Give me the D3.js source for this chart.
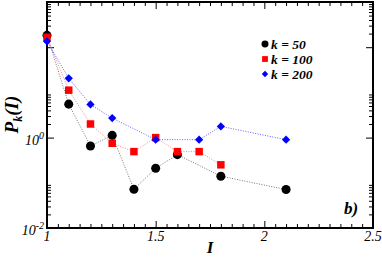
<!DOCTYPE html>
<html>
<head>
<meta charset="utf-8">
<script src="https://cdn.jsdelivr.net/npm/d3@7"></script>
<style>
  body { margin: 0; background: #fff; }
</style>
</head>
<body>
<div id="chart"></div>
<script>
// data
var xs50 = [1, 1.1, 1.2, 1.3, 1.4, 1.5, 1.6, 1.8, 2.1];
var k50 = [183, 5.5, 0.65, 1.12, 0.072, 0.21, 0.42, 0.14, 0.071];
var xs100 = [1, 1.1, 1.2, 1.3, 1.4, 1.5, 1.6, 1.7, 1.8];
var k100 = [166, 11.2, 2.0, 0.75, 0.49, 1.0, 0.49, 0.49, 0.25];
var xs200 = [1, 1.1, 1.2, 1.3, 1.5, 1.7, 1.8, 2.1];
var k200 = [135, 20.5, 5.4, 2.7, 0.9, 0.9, 1.77, 0.9];

var xMajor = [1, 1.5, 2, 2.5];
var yMajor = [1e-2, 1e0, 1e2];
var yLabels = [["10", "-2"], ["10", "0"]];

var FONT = "'Liberation Serif', 'Times New Roman', serif";

var margin = {top: 2, right: 9, bottom: 29, left: 47},
  width = 382 - margin.left - margin.right,
  height = 257 - margin.top - margin.bottom;

var svg = d3.select("#chart")
.append("svg")
  .attr("width", width + margin.left + margin.right)
  .attr("height", height + margin.top + margin.bottom)
.append("g")
  .attr("transform", "translate(" + margin.left + "," + margin.top + ")");

var x = d3.scaleLinear().domain([1, 2.5]).range([0, width]);
var y = d3.scaleLog().domain([1e-2, 1e3]).range([height, 0]);

// minor ticks
var xMinor = d3.range(1, 2.5001, 0.05).filter(function(v) {
  return Math.abs(v * 2 - Math.round(v * 2)) > 1e-6;
});
var yMinor = [];
yMajor.forEach(function(m) {
  for (var i = 2; i <= 9; i++) yMinor.push(m * i);
});

function tickAxis(axisFn, scale, vals, size, tr) {
  svg.append("g")
    .attr("transform", tr)
    .call(axisFn(scale).tickValues(vals).tickSize(size).tickFormat(""))
    .call(function(g) { g.select(".domain").remove(); })
    .selectAll("line").attr("stroke", "#000").attr("stroke-width", 1);
}
// bottom / top
tickAxis(d3.axisBottom, x, xMinor, -4, "translate(0," + height + ")");
tickAxis(d3.axisBottom, x, xMajor, -7, "translate(0," + height + ")");
tickAxis(d3.axisTop, x, xMinor, -4, "translate(0,0)");
tickAxis(d3.axisTop, x, xMajor, -7, "translate(0,0)");
// left / right
tickAxis(d3.axisLeft, y, yMinor, -4, "translate(0,0)");
tickAxis(d3.axisLeft, y, yMajor, -7, "translate(0,0)");
tickAxis(d3.axisRight, y, yMinor, -4, "translate(" + width + ",0)");
tickAxis(d3.axisRight, y, yMajor, -7, "translate(" + width + ",0)");

// frame
svg.append("rect")
  .attr("width", width).attr("height", height)
  .attr("fill", "none").attr("stroke", "#000").attr("stroke-width", 2);

function txt(sel, size, bold) {
  return sel.style("font-family", FONT)
    .style("font-size", size + "px")
    .style("font-style", "italic")
    .style("font-weight", bold ? "bold" : "normal");
}

// x tick labels
txt(svg.selectAll(".xl")
  .data(xMajor)
  .enter().append("text")
  .attr("x", function(d) { return x(d); })
  .attr("y", height + 13)
  .attr("text-anchor", "middle")
  .text(function(d) { return d; }), 14, false);

// y tick labels
yLabels.forEach(function(l, i) {
  var t = txt(svg.append("text")
    .attr("x", -3)
    .attr("y", y(yMajor[i]) + 7)
    .attr("text-anchor", "end"), 14, false);
  t.append("tspan").text(l[0]);
  t.append("tspan").attr("dy", -6).style("font-size", "10px").text(l[1]);
});

// axis titles
txt(svg.append("text")
  .attr("x", x(1.75))
  .attr("y", height + 25)
  .attr("text-anchor", "middle")
  .text("I"), 17, true);

var yt = txt(svg.append("text")
  .attr("transform", "translate(-29," + (y(1) - 23) + ") rotate(-90)")
  .attr("text-anchor", "middle"), 19, true);
yt.append("tspan").text("P");
yt.append("tspan").attr("dy", 4).style("font-size", "12px").text("k");
yt.append("tspan").attr("dy", -4).text("(I)");

txt(svg.append("text")
  .attr("x", 297)
  .attr("y", 212)
  .text("b)"), 17, true);

var series = [
  {xs: xs50, ys: k50, color: "#000", line: "#777", shape: "circle", label: "k = 50"},
  {xs: xs100, ys: k100, color: "#ff0000", line: "#ff8080", shape: "square", label: "k = 100"},
  {xs: xs200, ys: k200, color: "#0000ff", line: "#6060ff", shape: "diamond", label: "k = 200"}
];

var line = d3.line()
  .x(function(d) { return x(d[0]); })
  .y(function(d) { return y(d[1]); });

function symbolPath(shape, scale) {
  if (shape === "circle") return d3.symbol().type(d3.symbolCircle).size(64 * scale)();
  if (shape === "square") return d3.symbol().type(d3.symbolSquare).size(56 * scale)();
  return d3.symbol().type(d3.symbolSquare).size(34 * scale)();
}
function rot(shape) { return shape === "diamond" ? " rotate(45)" : ""; }

series.forEach(function(s) {
  var pts = s.xs.map(function(v, i) { return [v, s.ys[i]]; });
  svg.append("path")
    .datum(pts)
    .attr("fill", "none")
    .attr("stroke", s.line)
    .attr("stroke-width", 1)
    .attr("stroke-dasharray", "1,1.5")
    .attr("d", line);
});

series.forEach(function(s) {
  var pts = s.xs.map(function(v, i) { return [v, s.ys[i]]; });
  svg.selectAll()
    .data(pts)
    .enter().append("path")
    .attr("d", symbolPath(s.shape, 1))
    .attr("transform", function(d) { return "translate(" + x(d[0]) + "," + y(d[1]) + ")" + rot(s.shape); })
    .attr("fill", s.color);
});

// legend
series.forEach(function(s, i) {
  var ly = 42 + i * 15;
  svg.append("path")
    .attr("d", symbolPath(s.shape, 0.6))
    .attr("transform", "translate(" + (265 - margin.left) + "," + ly + ")" + rot(s.shape))
    .attr("fill", s.color);
  txt(svg.append("text")
    .attr("x", 271 - margin.left)
    .attr("y", ly + 5)
    .text(s.label), 13.5, true);
});
</script>
</body>
</html>
